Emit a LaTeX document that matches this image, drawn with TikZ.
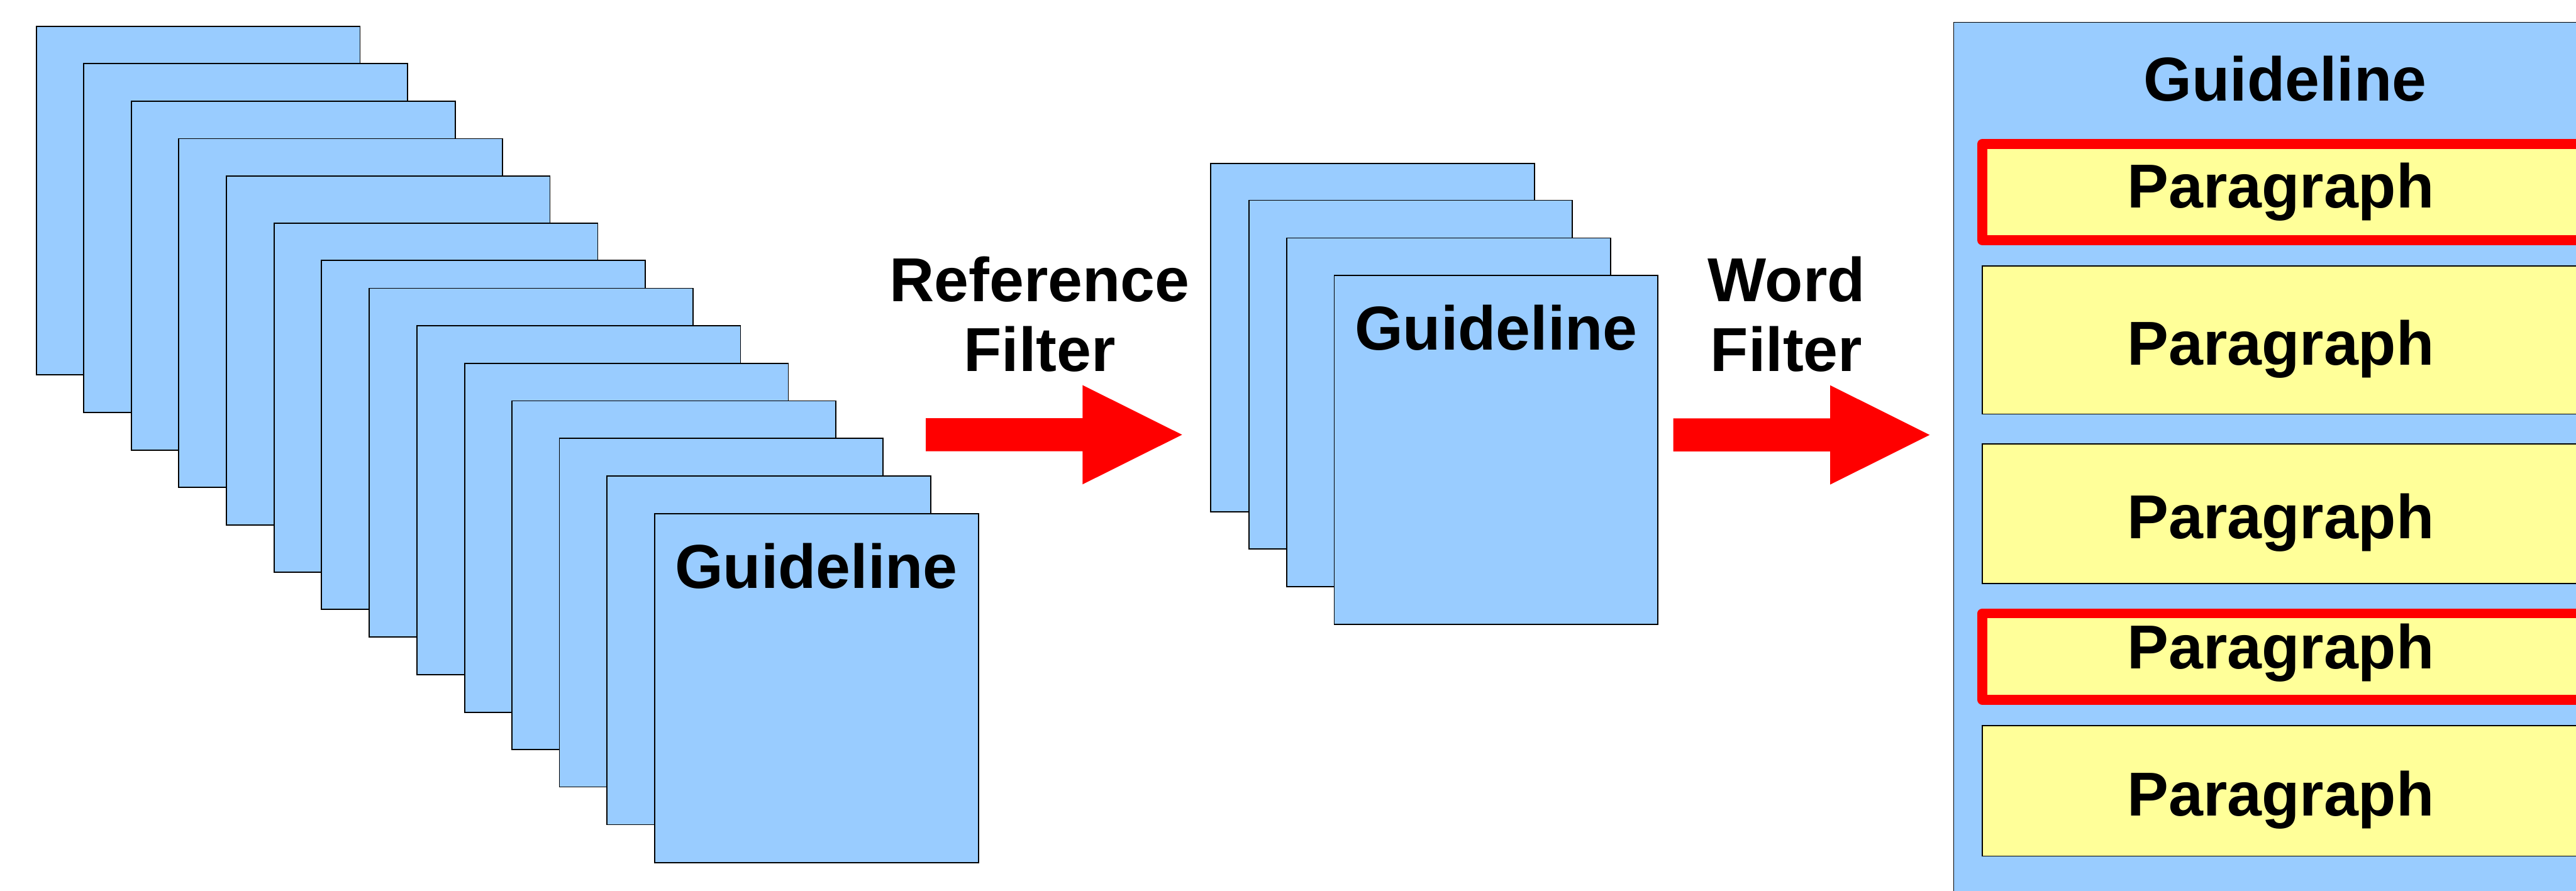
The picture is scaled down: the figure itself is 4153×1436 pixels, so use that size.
\documentclass[tikz,border=0pt]{standalone}
\usepackage{fontspec}
\setmainfont{Liberation Sans}
\definecolor{sheetblue}{HTML}{99CCFF}
\definecolor{parayellow}{HTML}{FFFF99}
\definecolor{hired}{HTML}{FF0000}
\tikzset{
  sheet/.style={draw=black, line width=0.5pt, fill=sheetblue, minimum width=5.215cm, minimum height=5.62cm, anchor=north west, inner sep=0pt, outer sep=0pt},
  panelbox/.style={draw=black, line width=0.5pt, fill=sheetblue, anchor=north west, inner sep=0pt, outer sep=0pt},
  parabox/.style={draw=black, line width=0.5pt, fill=parayellow, anchor=north west, inner sep=0pt, outer sep=0pt, minimum width=11.04cm},
  hitbox/.style={draw=hired, line width=0.16cm, line join=round, fill=parayellow, anchor=north west, inner sep=0pt, outer sep=0pt, minimum width=11.04cm},
  lbl/.style={font=\bfseries\fontsize{28.45pt}{32.15pt}\selectfont, inner sep=0pt, outer sep=0pt, anchor=base},
  blockarrow/.style={fill=hired, draw=none}
}
\begin{document}
\begin{tikzpicture}[x=0.01cm, y=-0.01cm]
\useasboundingbox (0,0) rectangle (4153,1436);
\clip (0,0) rectangle (4153,1436);
% left stack
\node[sheet] (L1) at (58.7,42.3) {};
\node[sheet] (L2) at (135.2,102.6) {};
\node[sheet] (L3) at (212.2,163.3) {};
\node[sheet] (L4) at (288.3,223.5) {};
\node[sheet] (L5) at (364.8,284.2) {};
\node[sheet] (L6) at (441.8,360.2) {};
\node[sheet] (L7) at (518.4,419.9) {};
\node[sheet] (L8) at (595.4,464.8) {};
\node[sheet] (L9) at (672,525.5) {};
\node[sheet] (L10) at (749,586.2) {};
\node[sheet] (L11) at (825.5,646.4) {};
\node[sheet] (L12) at (902,706.6) {};
\node[sheet] (L13) at (978.6,767.3) {};
\node[sheet] (L14) at (1055.6,828.4) {};
\node[lbl] (L14t) at (1316,949) {Guideline};
% first arrow
\node[lbl] (R1) at (1676,486) {\begin{tabular}[t]{@{}c@{}}Reference\\Filter\end{tabular}};
\coordinate (A1) at (1492.7,701);
\path[blockarrow] (A1) ++(0,-26.6) -- ++(252.6,0) -- ++(0,-53.4) -- ++(160.4,80) -- ++(-160.4,80) -- ++(0,-53.4) -- ++(-252.6,0) -- cycle;
% middle stack
\node[sheet] (M1) at (1952,263.3) {};
\node[sheet] (M2) at (2013.3,323) {};
\node[sheet] (M3) at (2074.5,383.7) {};
\node[sheet] (M4) at (2151,444.4) {};
\node[lbl] (M4t) at (2412,564.3) {Guideline};
% second arrow
\node[lbl] (R2) at (2880,486) {\begin{tabular}[t]{@{}c@{}}Word\\Filter\end{tabular}};
\coordinate (A2) at (2697.7,701.3);
\path[blockarrow] (A2) ++(0,-26.6) -- ++(253,0) -- ++(0,-53.4) -- ++(160.3,80) -- ++(-160.3,80) -- ++(0,-53.4) -- ++(-253,0) -- cycle;
% right panel
\node[panelbox, minimum width=11.5cm, minimum height=15cm] (G) at (3149.7,36) {};
\node[lbl] (Gt) at (3684,162.7) {Guideline};
\node[hitbox, minimum height=1.555cm] (P1) at (3196,232) {};
\node[parabox, minimum height=2.39cm] (P2) at (3196,428.6) {};
\node[parabox, minimum height=2.247cm] (P3) at (3196,716) {};
\node[hitbox, minimum height=1.394cm] (P4) at (3196,989) {};
\node[parabox, minimum height=2.103cm] (P5) at (3196,1170) {};
\node[lbl] (P1t) at (3677,335) {Paragraph};
\node[lbl] (P2t) at (3677,588.8) {Paragraph};
\node[lbl] (P3t) at (3677,868.1) {Paragraph};
\node[lbl] (P4t) at (3677,1078.5) {Paragraph};
\node[lbl] (P5t) at (3677,1315.4) {Paragraph};
\end{tikzpicture}
\end{document}
